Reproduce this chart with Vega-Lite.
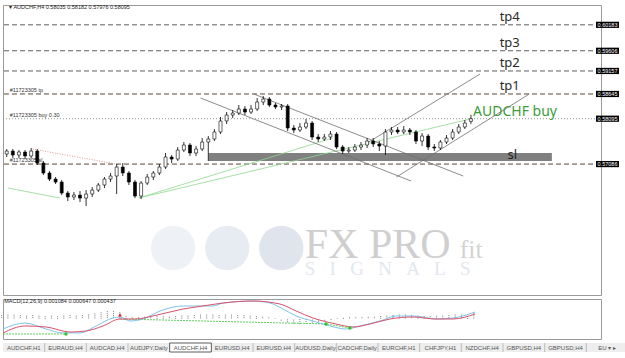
{
"$schema": "https://vega.github.io/schema/vega-lite/v6.json",
"background": "white",
"padding": {"left": 0, "top": 4, "right": 0, "bottom": 0},
"spacing": 2,
"config": {"view": {"stroke": "#9a9a9a"}, "font": "Liberation Sans"},
"datasets": {
"bars": [
{"i":0,"open":0.57309,"high":0.5742,"low":0.57243,"close":0.57376,"osma":0.0007},
{"i":2,"open":0.57376,"high":0.5742,"low":0.5722,"close":0.57287,"osma":0.0008},
{"i":4,"open":0.57287,"high":0.57398,"low":0.5722,"close":0.57354,"osma":0.0008},
{"i":6,"open":0.57354,"high":0.57398,"low":0.57198,"close":0.57265,"osma":0.0007},
{"i":8,"open":0.57265,"high":0.57443,"low":0.5722,"close":0.57376,"osma":0.0006},
{"i":10,"open":0.57376,"high":0.5742,"low":0.57065,"close":0.57109,"osma":0.0007},
{"i":12,"open":0.57109,"high":0.57154,"low":0.56842,"close":0.56887,"osma":0.0006},
{"i":14,"open":0.56887,"high":0.56931,"low":0.56709,"close":0.56753,"osma":0.0005},
{"i":16,"open":0.56753,"high":0.56798,"low":0.56642,"close":0.56686,"osma":0.0006},
{"i":18,"open":0.56686,"high":0.56731,"low":0.56397,"close":0.56442,"osma":0.0005},
{"i":20,"open":0.56442,"high":0.56486,"low":0.56264,"close":0.56353,"osma":0.0006},
{"i":22,"open":0.56353,"high":0.56464,"low":0.56286,"close":0.56397,"osma":0.0007},
{"i":24,"open":0.56397,"high":0.56486,"low":0.56241,"close":0.5633,"osma":0.0006},
{"i":26,"open":0.5633,"high":0.56508,"low":0.56153,"close":0.56419,"osma":0.0007},
{"i":28,"open":0.56419,"high":0.56575,"low":0.56353,"close":0.56508,"osma":0.0008},
{"i":30,"open":0.56508,"high":0.56664,"low":0.56464,"close":0.5662,"osma":0.001},
{"i":32,"open":0.5662,"high":0.56798,"low":0.56553,"close":0.56753,"osma":0.0012},
{"i":34,"open":0.56753,"high":0.56887,"low":0.56686,"close":0.5682,"osma":0.0014},
{"i":36,"open":0.5682,"high":0.57087,"low":0.56419,"close":0.5702,"osma":0.0014},
{"i":38,"open":0.5702,"high":0.57109,"low":0.5682,"close":0.56887,"osma":0.0012},
{"i":40,"open":0.56887,"high":0.56931,"low":0.5662,"close":0.56686,"osma":0.0005},
{"i":42,"open":0.56686,"high":0.56731,"low":0.5633,"close":0.56375,"osma":0.0003},
{"i":44,"open":0.56375,"high":0.56709,"low":0.56308,"close":0.56664,"osma":0.0003},
{"i":46,"open":0.56664,"high":0.56864,"low":0.5662,"close":0.56798,"osma":0.0004},
{"i":48,"open":0.56798,"high":0.56931,"low":0.56731,"close":0.56887,"osma":0.0004},
{"i":50,"open":0.56887,"high":0.57087,"low":0.56842,"close":0.5702,"osma":0.0005},
{"i":52,"open":0.5702,"high":0.57332,"low":0.56976,"close":0.57243,"osma":0.0005},
{"i":54,"open":0.57243,"high":0.57287,"low":0.57109,"close":0.57198,"osma":0.0004},
{"i":56,"open":0.57198,"high":0.57465,"low":0.57154,"close":0.57398,"osma":0.0005},
{"i":58,"open":0.57398,"high":0.57576,"low":0.57354,"close":0.57509,"osma":0.0006},
{"i":60,"open":0.57509,"high":0.57554,"low":0.57265,"close":0.57332,"osma":0.0006},
{"i":62,"open":0.57332,"high":0.57487,"low":0.57265,"close":0.5742,"osma":0.0007},
{"i":64,"open":0.5742,"high":0.57665,"low":0.57376,"close":0.57576,"osma":0.0008},
{"i":66,"open":0.57576,"high":0.5771,"low":0.57154,"close":0.57643,"osma":0.0008},
{"i":68,"open":0.57643,"high":0.57865,"low":0.57598,"close":0.57799,"osma":0.0008},
{"i":70,"open":0.57799,"high":0.58132,"low":0.57754,"close":0.58044,"osma":0.0007},
{"i":72,"open":0.58044,"high":0.58243,"low":0.57977,"close":0.58177,"osma":0.0008},
{"i":74,"open":0.58177,"high":0.58288,"low":0.5811,"close":0.58221,"osma":0.0008},
{"i":76,"open":0.58221,"high":0.58399,"low":0.58177,"close":0.5831,"osma":0.0007},
{"i":78,"open":0.5831,"high":0.58377,"low":0.58177,"close":0.58243,"osma":0.0007},
{"i":80,"open":0.58243,"high":0.58399,"low":0.58199,"close":0.5831,"osma":0.0006},
{"i":82,"open":0.5831,"high":0.58555,"low":0.58266,"close":0.58466,"osma":0.0005},
{"i":84,"open":0.58466,"high":0.58599,"low":0.58399,"close":0.58532,"osma":0.0004},
{"i":86,"open":0.58532,"high":0.58577,"low":0.58355,"close":0.58399,"osma":0.0003},
{"i":88,"open":0.58399,"high":0.58444,"low":0.5831,"close":0.58355,"osma":0.0001},
{"i":90,"open":0.58355,"high":0.58421,"low":0.58288,"close":0.58377,"osma":-0.0003},
{"i":92,"open":0.58377,"high":0.58421,"low":0.57821,"close":0.57888,"osma":-0.0006},
{"i":94,"open":0.57888,"high":0.57954,"low":0.57776,"close":0.57843,"osma":-0.0008},
{"i":96,"open":0.57843,"high":0.57999,"low":0.57799,"close":0.5791,"osma":-0.0009},
{"i":98,"open":0.5791,"high":0.58088,"low":0.57865,"close":0.57999,"osma":-0.0009},
{"i":100,"open":0.57999,"high":0.58044,"low":0.57621,"close":0.57687,"osma":-0.0008},
{"i":102,"open":0.57687,"high":0.57754,"low":0.57576,"close":0.57643,"osma":-0.0006},
{"i":104,"open":0.57643,"high":0.57754,"low":0.57598,"close":0.57687,"osma":-0.0004},
{"i":106,"open":0.57687,"high":0.57821,"low":0.57621,"close":0.57754,"osma":-0.0002},
{"i":108,"open":0.57754,"high":0.57799,"low":0.5742,"close":0.57465,"osma":0.0001},
{"i":110,"open":0.57465,"high":0.57509,"low":0.57309,"close":0.57376,"osma":0.0002},
{"i":112,"open":0.57376,"high":0.57465,"low":0.57332,"close":0.57398,"osma":0.0003},
{"i":114,"open":0.57398,"high":0.57532,"low":0.57354,"close":0.57465,"osma":0.0003},
{"i":116,"open":0.57465,"high":0.57576,"low":0.57398,"close":0.57509,"osma":0.0003},
{"i":118,"open":0.57509,"high":0.57665,"low":0.57443,"close":0.57598,"osma":0.0004},
{"i":120,"open":0.57598,"high":0.57665,"low":0.57465,"close":0.57532,"osma":0.0004},
{"i":122,"open":0.57532,"high":0.57598,"low":0.57376,"close":0.57487,"osma":0.0005},
{"i":124,"open":0.57487,"high":0.57865,"low":0.57287,"close":0.57799,"osma":0.0006},
{"i":126,"open":0.57799,"high":0.5791,"low":0.57732,"close":0.57843,"osma":0.0007},
{"i":128,"open":0.57843,"high":0.5791,"low":0.57754,"close":0.57799,"osma":0.0008},
{"i":130,"open":0.57799,"high":0.57932,"low":0.57754,"close":0.57843,"osma":0.0008},
{"i":132,"open":0.57843,"high":0.57888,"low":0.57732,"close":0.57799,"osma":0.0007},
{"i":134,"open":0.57799,"high":0.57843,"low":0.57532,"close":0.57598,"osma":0.0006},
{"i":136,"open":0.57598,"high":0.57776,"low":0.57487,"close":0.5771,"osma":0.0005},
{"i":138,"open":0.5771,"high":0.57754,"low":0.57398,"close":0.57465,"osma":0.0005},
{"i":140,"open":0.57465,"high":0.57532,"low":0.57376,"close":0.57443,"osma":0.0006},
{"i":142,"open":0.57443,"high":0.57621,"low":0.57398,"close":0.57576,"osma":0.0006},
{"i":144,"open":0.57576,"high":0.57732,"low":0.57532,"close":0.57665,"osma":0.0007},
{"i":146,"open":0.57665,"high":0.57865,"low":0.57621,"close":0.57799,"osma":0.0008},
{"i":148,"open":0.57799,"high":0.57977,"low":0.57754,"close":0.5791,"osma":0.0008},
{"i":150,"open":0.5791,"high":0.58066,"low":0.57865,"close":0.57999,"osma":0.0009},
{"i":152,"open":0.58035,"high":0.58182,"low":0.57976,"close":0.58095,"osma":0.001}
],
"levels": [
{"name":"tp4","p":0.60183},{"name":"tp3","p":0.59606},{"name":"tp2","p":0.59157},
{"name":"tp1","p":0.58645},{"name":"buy","p":0.58095},{"name":"sl","p":0.57086}
],
"trend": [
{"id":"d1","i":63.5,"p":0.58555},{"id":"d1","i":132.4,"p":0.56709},
{"id":"d2","i":80.9,"p":0.58644},{"id":"d2","i":149.5,"p":0.5682},
{"id":"a1","i":118,"p":0.57554},{"id":"a1","i":155,"p":0.59089},
{"id":"a2","i":127.6,"p":0.56798},{"id":"a2","i":171.1,"p":0.58644}
],
"green": [
{"id":"g1","i":0.42,"p":0.56553},{"id":"g1","i":17.5,"p":0.5633},
{"id":"g2","i":43.2,"p":0.5633},{"id":"g2","i":106.7,"p":0.57665},
{"id":"g3","i":43.2,"p":0.5633},{"id":"g3","i":151.7,"p":0.58088}
],
"red": [{"i":8.5,"p":0.5742},{"i":35.8,"p":0.57087}],
"macd": [
{"s":"main","i":0.42,"v":-0.00179},{"s":"main","i":7.5,"v":-0.00072},{"s":"main","i":14.3,"v":-0.00179},{"s":"main","i":19.7,"v":-0.0025},{"s":"main","i":25.2,"v":-0.0025},{"s":"main","i":30.4,"v":-0.00125},{"s":"main","i":35.8,"v":0.00018},{"s":"main","i":38.1,"v":0.00036},{"s":"main","i":41.3,"v":-0.00036},{"s":"main","i":45.5,"v":0},{"s":"main","i":51,"v":0.00143},{"s":"main","i":58.4,"v":0.00233},{"s":"main","i":68,"v":0.00233},{"s":"main","i":71.3,"v":0.00286},{"s":"main","i":80.9,"v":0.00322},{"s":"main","i":86.4,"v":0.00286},{"s":"main","i":90.6,"v":0.00179},{"s":"main","i":94.8,"v":0.00054},{"s":"main","i":100.2,"v":-0.00036},{"s":"main","i":105.7,"v":-0.00125},{"s":"main","i":110.8,"v":-0.00179},{"s":"main","i":115.4,"v":-0.00125},{"s":"main","i":121.8,"v":-0.00036},{"s":"main","i":127,"v":0.00054},{"s":"main","i":132.4,"v":0.00054},{"s":"main","i":135.6,"v":0.00036},{"s":"main","i":139.8,"v":0},{"s":"main","i":145.3,"v":0.00018},{"s":"main","i":152.4,"v":0.00125},
{"s":"signal","i":0.42,"v":-0.0025},{"s":"signal","i":7.5,"v":-0.00125},{"s":"signal","i":14.3,"v":-0.00143},{"s":"signal","i":22,"v":-0.00233},{"s":"signal","i":27.1,"v":-0.00215},{"s":"signal","i":32.6,"v":-0.00125},{"s":"signal","i":38.1,"v":0},{"s":"signal","i":43.2,"v":0},{"s":"signal","i":48.7,"v":0.00054},{"s":"signal","i":58.4,"v":0.00179},{"s":"signal","i":64.8,"v":0.00233},{"s":"signal","i":71.3,"v":0.00286},{"s":"signal","i":80.9,"v":0.00322},{"s":"signal","i":89.6,"v":0.00268},{"s":"signal","i":94.8,"v":0.00143},{"s":"signal","i":100.2,"v":0.00018},{"s":"signal","i":107.6,"v":-0.00089},{"s":"signal","i":113.1,"v":-0.00143},{"s":"signal","i":118.6,"v":-0.00089},{"s":"signal","i":125,"v":0},{"s":"signal","i":132.4,"v":0.00036},{"s":"signal","i":139.8,"v":0},{"s":"signal","i":145.3,"v":0},{"s":"signal","i":152.4,"v":0.00089}
],
"macdgreen": [
{"seg":"a","i":0.42,"v":-0.00268},{"seg":"a","i":20.7,"v":-0.00268},
{"seg":"b","i":38.1,"v":0},{"seg":"b","i":104.4,"v":-0.00089},{"seg":"b","i":112.1,"v":-0.00161}
],
"tabs": [
{"k":0,"t":"AUDCHF,H1"},{"k":1,"t":"EURAUD,H4"},{"k":2,"t":"AUDCAD,H4"},{"k":3,"t":"AUDJPY,Daily"},{"k":4,"t":"AUDCHF,H4"},{"k":5,"t":"EURUSD,H4"},{"k":6,"t":"EURUSD,H4"},{"k":7,"t":"AUDUSD,Daily"},{"k":8,"t":"CADCHF,Daily"},{"k":9,"t":"EURCHF,H1"},{"k":10,"t":"CHFJPY,H1"},{"k":11,"t":"NZDCHF,H4"},{"k":12,"t":"GBPUSD,H4"},{"k":13,"t":"GBPUSD,H4"},{"k":14,"t":"EU ▾     ▸"}
]
},
"vconcat": [
{
"width": 598, "height": 290,
"layer": [
{"data": {"values": [{"k":"a","i":54.5,"p":0.55219},{"k":"b","i":72.2,"p":0.55219},{"k":"c","i":89.9,"p":0.55219}]},
 "mark": {"type":"point","shape":"circle","filled":true,"size":1963,"opacity":1},
 "encoding": {
  "x": {"field":"i","type":"quantitative","scale":{"domain":[0.42,192.95],"nice":false,"zero":false},"axis":null},
  "y": {"field":"p","type":"quantitative","scale":{"domain":[0.54174,0.60624],"nice":false,"zero":false},"axis":{"orient":"right","title":null,"grid":false,"values":[0.6029,0.59865,0.5944,0.59015,0.58165,0.57735,0.5731,0.56885,0.5646,0.56035,0.55605,0.5518,0.54755,0.5433],"format":".5f","labelFontSize":6,"labelColor":"#6a6a6a","tickColor":"#888","tickSize":3,"domainColor":"#888","labelPadding":2}},
  "color": {"field":"k","type":"nominal","legend":null,"scale":{"domain":["a","b","c"],"range":["#eef1f6","#e7ebf2","#dfe4ed"]}}
 }},
{"data": {"values": [{"i":97.6,"p":0.54996,"t":"FX PRO"}]},
 "mark": {"type":"text","font":"Liberation Serif","fontSize":42,"color":"#cfcfcf","align":"left","baseline":"alphabetic"},
 "encoding": {"x":{"field":"i","type":"quantitative","scale":{"domain":[0.42,192.95],"nice":false,"zero":false},"axis":null},"y":{"field":"p","type":"quantitative","scale":{"domain":[0.54174,0.60624],"nice":false,"zero":false},"axis":null},"text":{"field":"t"}}},
{"data": {"values": [{"i":148.3,"p":0.54996,"t":"fit"}]},
 "mark": {"type":"text","font":"Liberation Serif","fontSize":26,"color":"#d3d3d3","align":"left","baseline":"alphabetic"},
 "encoding": {"x":{"field":"i","type":"quantitative","scale":{"domain":[0.42,192.95],"nice":false,"zero":false},"axis":null},"y":{"field":"p","type":"quantitative","scale":{"domain":[0.54174,0.60624],"nice":false,"zero":false},"axis":null},"text":{"field":"t"}}},
{"data": {"values": [{"i":97.6,"p":0.5462,"t":"S\u00a0\u00a0\u00a0I\u00a0\u00a0\u00a0G\u00a0\u00a0\u00a0N\u00a0\u00a0\u00a0A\u00a0\u00a0\u00a0L\u00a0\u00a0\u00a0S"}]},
 "mark": {"type":"text","font":"Liberation Serif","fontSize":19,"color":"#e3e7ef","align":"left","baseline":"alphabetic"},
 "encoding": {"x":{"field":"i","type":"quantitative","scale":{"domain":[0.42,192.95],"nice":false,"zero":false},"axis":null},"y":{"field":"p","type":"quantitative","scale":{"domain":[0.54174,0.60624],"nice":false,"zero":false},"axis":null},"text":{"field":"t"}}},
{"data": {"values": [{"i1":66.1,"i2":178.5,"p1":0.57332,"p2":0.57154}]},
 "mark": {"type":"rect","color":"#808080"},
 "encoding": {"x":{"field":"i1","type":"quantitative","scale":{"domain":[0.42,192.95],"nice":false,"zero":false},"axis":null},"x2":{"field":"i2"},"y":{"field":"p1","type":"quantitative","scale":{"domain":[0.54174,0.60624],"nice":false,"zero":false},"axis":null},"y2":{"field":"p2"}}},
{"data": {"name":"levels"},
 "transform": [{"filter": {"field":"name","oneOf":["tp4","tp3","tp2"]}}],
 "mark": {"type":"rule","color":"#5e5e5e","strokeWidth":1,"strokeDash":[5,3]},
 "encoding": {"y":{"field":"p","type":"quantitative","scale":{"domain":[0.54174,0.60624],"nice":false,"zero":false},"axis":null}}},
{"data": {"name":"levels"},
 "transform": [{"filter": {"field":"name","oneOf":["tp1","sl"]}}],
 "mark": {"type":"rule","color":"#5a4636","strokeWidth":1,"strokeDash":[5,3]},
 "encoding": {"y":{"field":"p","type":"quantitative","scale":{"domain":[0.54174,0.60624],"nice":false,"zero":false},"axis":null}}},
{"data": {"name":"levels"},
 "transform": [{"filter": {"field":"name","oneOf":["buy"]}}],
 "mark": {"type":"rule","color":"#8c9c8c","strokeWidth":1,"strokeDash":[1,2]},
 "encoding": {"y":{"field":"p","type":"quantitative","scale":{"domain":[0.54174,0.60624],"nice":false,"zero":false},"axis":null}}},
{"data": {"values": [{"t":"#11723305 tp","p":0.58645},{"t":"#11723305 buy 0.30","p":0.58095},{"t":"#11723305 sl","p":0.57086}]},
 "mark": {"type":"text","fontSize":5.5,"color":"#333333","align":"left","baseline":"bottom","dy":-1},
 "encoding": {"x":{"datum":1.0,"type":"quantitative","scale":{"domain":[0.42,192.95],"nice":false,"zero":false},"axis":null},"y":{"field":"p","type":"quantitative","scale":{"domain":[0.54174,0.60624],"nice":false,"zero":false},"axis":null},"text":{"field":"t"}}},
{"data": {"values": [{"t":"▾  AUDCHF,H4  0.58035 0.58182 0.57976 0.58095","p":0.6059}]},
 "mark": {"type":"text","fontSize":5.5,"color":"#222222","align":"left","baseline":"middle"},
 "encoding": {"x":{"datum":0.8,"type":"quantitative","scale":{"domain":[0.42,192.95],"nice":false,"zero":false},"axis":null},"y":{"field":"p","type":"quantitative","scale":{"domain":[0.54174,0.60624],"nice":false,"zero":false},"axis":null},"text":{"field":"t"}}},
{"data": {"name":"levels"},
 "transform": [{"filter": {"field":"name","oneOf":["tp4","tp3","tp2","tp1"]}}],
 "mark": {"type":"text","font":"Noto Sans","fontSize":13,"color":"#2a2a2a","align":"left","baseline":"bottom","dy":-1},
 "encoding": {"x":{"datum":161.4,"type":"quantitative","scale":{"domain":[0.42,192.95],"nice":false,"zero":false},"axis":null},"y":{"field":"p","type":"quantitative","scale":{"domain":[0.54174,0.60624],"nice":false,"zero":false},"axis":null},"text":{"field":"name"}}},
{"data": {"values": [{"t":"AUDCHF buy","p":0.58095}]},
 "mark": {"type":"text","font":"Noto Sans","fontSize":14,"color":"#3a9d3a","align":"left","baseline":"bottom","dy":0},
 "encoding": {"x":{"datum":152.7,"type":"quantitative","scale":{"domain":[0.42,192.95],"nice":false,"zero":false},"axis":null},"y":{"field":"p","type":"quantitative","scale":{"domain":[0.54174,0.60624],"nice":false,"zero":false},"axis":null},"text":{"field":"t"}}},
{"data": {"values": [{"t":"sl","p":0.57086}]},
 "mark": {"type":"text","font":"Noto Sans","fontSize":13,"color":"#1e1e1e","align":"left","baseline":"bottom","dy":-2},
 "encoding": {"x":{"datum":164,"type":"quantitative","scale":{"domain":[0.42,192.95],"nice":false,"zero":false},"axis":null},"y":{"field":"p","type":"quantitative","scale":{"domain":[0.54174,0.60624],"nice":false,"zero":false},"axis":null},"text":{"field":"t"}}},
{"data": {"name":"green"},
 "mark": {"type":"line","color":"#8fd88f","strokeWidth":0.8},
 "encoding": {"x":{"field":"i","type":"quantitative","scale":{"domain":[0.42,192.95],"nice":false,"zero":false},"axis":null},"y":{"field":"p","type":"quantitative","scale":{"domain":[0.54174,0.60624],"nice":false,"zero":false},"axis":null},"detail":{"field":"id"}}},
{"data": {"name":"red"},
 "mark": {"type":"line","color":"#d9807a","strokeWidth":0.8,"strokeDash":[1,1.5]},
 "encoding": {"x":{"field":"i","type":"quantitative","scale":{"domain":[0.42,192.95],"nice":false,"zero":false},"axis":null},"y":{"field":"p","type":"quantitative","scale":{"domain":[0.54174,0.60624],"nice":false,"zero":false},"axis":null}}},
{"data": {"name":"trend"},
 "mark": {"type":"line","color":"#6f6f6f","strokeWidth":0.8},
 "encoding": {"x":{"field":"i","type":"quantitative","scale":{"domain":[0.42,192.95],"nice":false,"zero":false},"axis":null},"y":{"field":"p","type":"quantitative","scale":{"domain":[0.54174,0.60624],"nice":false,"zero":false},"axis":null},"detail":{"field":"id"}}},
{"data": {"name":"bars"},
 "mark": {"type":"rule","color":"#000000","strokeWidth":0.8},
 "encoding": {"x":{"field":"i","type":"quantitative","scale":{"domain":[0.42,192.95],"nice":false,"zero":false},"axis":null},"y":{"field":"low","type":"quantitative","scale":{"domain":[0.54174,0.60624],"nice":false,"zero":false},"axis":null},"y2":{"field":"high"}}},
{"data": {"name":"bars"},
 "mark": {"type":"bar","size":3,"stroke":"#000000","strokeWidth":0.6},
 "encoding": {"x":{"field":"i","type":"quantitative","scale":{"domain":[0.42,192.95],"nice":false,"zero":false},"axis":null},"y":{"field":"open","type":"quantitative","scale":{"domain":[0.54174,0.60624],"nice":false,"zero":false},"axis":null},"y2":{"field":"close"},
  "color":{"condition":{"test":"datum.close > datum.open","value":"#ffffff"},"value":"#000000"}}},
{"data": {"name":"levels"},
 "mark": {"type":"point","shape":"M-1,-0.27H1V0.27H-1Z","size":529,"filled":true,"opacity":1,"color":"#000000","xOffset":11.5},
 "encoding": {"x":{"datum":192.95,"type":"quantitative","scale":{"domain":[0.42,192.95],"nice":false,"zero":false},"axis":null},"y":{"field":"p","type":"quantitative","scale":{"domain":[0.54174,0.60624],"nice":false,"zero":false},"axis":null}}},
{"data": {"name":"levels"},
 "mark": {"type":"text","fontSize":5.5,"color":"#ffffff","align":"center","baseline":"middle","dx":11.5},
 "encoding": {"x":{"datum":192.95,"type":"quantitative","scale":{"domain":[0.42,192.95],"nice":false,"zero":false},"axis":null},"y":{"field":"p","type":"quantitative","scale":{"domain":[0.54174,0.60624],"nice":false,"zero":false},"axis":null},"text":{"field":"p","type":"quantitative","format":".5f"}}}
]
},
{
"width": 598, "height": 40,
"layer": [
{"data": {"name":"bars"},
 "mark": {"type":"rule","color":"#7a7a7a","strokeWidth":1,"strokeDash":[1,1]},
 "encoding": {
  "x":{"field":"i","type":"quantitative","scale":{"domain":[0.42,192.95],"nice":false,"zero":false},
   "axis":{"values":[0.5,12,24,36,48,60,72,84,96,108,120,132,144],"labelExpr":"['17 Oct 2023','19 Oct 00:00','23 Oct 00:00','25 Oct 00:00','27 Oct 00:00','31 Oct 00:00','2 Nov 00:00','6 Nov 00:00','8 Nov 00:00','10 Nov 00:00','14 Nov 00:00','16 Nov 00:00','20 Nov 00:00'][round(datum.value/12)]","labelAlign":"left","labelFontSize":6,"labelColor":"#444444","tickSize":3,"tickColor":"#666","domain":false,"grid":false,"title":null,"labelPadding":0,"labelOverlap":false,"labelFlush":false,"labelBound":false}},
  "y":{"field":"osma","type":"quantitative","scale":{"domain":[-0.00358,0.00358],"nice":false,"zero":false},
   "axis":{"orient":"right","values":[0.00322,0,-0.003068],"labelExpr":"datum.value == 0 ? '0.00' : (datum.value > 0 ? '0.00322' : '-0.003068')","labelFontSize":6,"labelColor":"#6a6a6a","tickSize":3,"tickColor":"#888","domainColor":"#888","grid":false,"title":null,"labelPadding":2}},
  "y2":{"datum":0}
 }},
{"data": {"name":"macdgreen"},
 "mark": {"type":"line","color":"#5fd35f","strokeWidth":1,"strokeDash":[2,1]},
 "encoding": {"x":{"field":"i","type":"quantitative","scale":{"domain":[0.42,192.95],"nice":false,"zero":false},"axis":null},"y":{"field":"v","type":"quantitative","scale":{"domain":[-0.00358,0.00358],"nice":false,"zero":false},"axis":null},"detail":{"field":"seg"}}},
{"data": {"name":"macd"},
 "transform": [{"filter": {"field":"s","equal":"main"}}],
 "mark": {"type":"line","strokeWidth":1,"interpolate":"monotone","color":"#7ec3ea"},
 "encoding": {"x":{"field":"i","type":"quantitative","scale":{"domain":[0.42,192.95],"nice":false,"zero":false},"axis":null},"y":{"field":"v","type":"quantitative","scale":{"domain":[-0.00358,0.00358],"nice":false,"zero":false},"axis":null}}},
{"data": {"name":"macd"},
 "transform": [{"filter": {"field":"s","equal":"signal"}}],
 "mark": {"type":"line","strokeWidth":1,"interpolate":"monotone","color":"#d9506a"},
 "encoding": {"x":{"field":"i","type":"quantitative","scale":{"domain":[0.42,192.95],"nice":false,"zero":false},"axis":null},"y":{"field":"v","type":"quantitative","scale":{"domain":[-0.00358,0.00358],"nice":false,"zero":false},"axis":null}}},
{"data": {"values": [{"i":20.7,"v":-0.00268},{"i":104.4,"v":-0.00089},{"i":112.1,"v":-0.00161}]},
 "mark": {"type":"point","shape":"circle","filled":true,"size":12,"opacity":1,"color":"#33c433"},
 "encoding": {"x":{"field":"i","type":"quantitative","scale":{"domain":[0.42,192.95],"nice":false,"zero":false},"axis":null},"y":{"field":"v","type":"quantitative","scale":{"domain":[-0.00358,0.00358],"nice":false,"zero":false},"axis":null}}},
{"data": {"values": [{"i":38.1,"v":0.00072}]},
 "mark": {"type":"point","shape":"triangle-up","filled":true,"size":14,"opacity":1,"color":"#e0202a"},
 "encoding": {"x":{"field":"i","type":"quantitative","scale":{"domain":[0.42,192.95],"nice":false,"zero":false},"axis":null},"y":{"field":"v","type":"quantitative","scale":{"domain":[-0.00358,0.00358],"nice":false,"zero":false},"axis":null}}},
{"data": {"values": [{"t":"MACD(12,26,9) 0.001084 0.000647 0.000437","v":0.00322}]},
 "mark": {"type":"text","fontSize":5.5,"color":"#222222","align":"left","baseline":"middle"},
 "encoding": {"x":{"datum":0.8,"type":"quantitative","scale":{"domain":[0.42,192.95],"nice":false,"zero":false},"axis":null},"y":{"field":"v","type":"quantitative","scale":{"domain":[-0.00358,0.00358],"nice":false,"zero":false},"axis":null},"text":{"field":"t"}}}
]
},
{
"width": 625, "height": 9,
"view": {"fill": "#eeeeee", "stroke": null},
"data": {"name":"tabs"},
"layer": [
{"transform": [{"filter":"datum.k == 4"}],
 "mark": {"type":"rect","fill":"#ffffff","stroke":"#333333","strokeWidth":0.8},
 "encoding": {"x":{"field":"k","type":"ordinal","scale":{"paddingInner":0,"paddingOuter":0},"axis":null}}},
{"transform": [{"filter":"datum.k != 0 && datum.k != 4 && datum.k != 5"}],
 "mark": {"type":"rule","color":"#9a9a9a","strokeWidth":0.6},
 "encoding": {"x":{"field":"k","type":"ordinal","bandPosition":0,"scale":{"paddingInner":0,"paddingOuter":0},"axis":null}}},
{"mark": {"type":"text","fontSize":6,"color":"#555555","align":"center","baseline":"middle"},
 "encoding": {"x":{"field":"k","type":"ordinal","scale":{"paddingInner":0,"paddingOuter":0},"axis":null},"text":{"field":"t"}}}
]
}
]
}
